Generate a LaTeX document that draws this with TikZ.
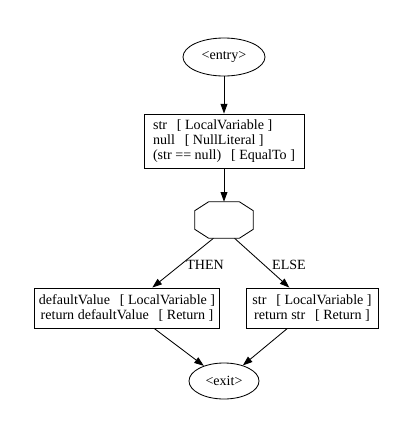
\documentclass[tikz,border=0pt]{standalone}
\usepackage{fontspec}
\setmainfont{Liberation Serif}
\usetikzlibrary{shapes.geometric,arrows.meta}

\newcommand{\gap}{\hspace{0.7em}}

\begin{document}
\begin{tikzpicture}
	[x=0.025cm, y=-0.025cm,
	every node/.style ={font=\fontsize{10}{10.6}\selectfont},
	term/.style ={ellipse, draw, line width=0.6pt, inner sep=0pt},
	block/.style ={rectangle, draw, line width=0.6pt, align=left, minimum height=1cm},
	cond/.style ={rectangle, minimum width=1.45cm, minimum height=0.9cm, inner sep=0pt},
	tag/.style ={inner sep=1pt},
	line/.style ={draw, line width=0.6pt, -{Triangle[length=2.4mm,width=1.7mm]}}]
	\useasboundingbox (0,0) rectangle (420,441);
	\draw (224, 57) node[term, minimum width=2.05cm, minimum height=0.95cm] (entry) {<entry>};
	\draw (224, 141) node[block, minimum width=4cm, minimum height=1.35cm] (decl) {str\gap[ LocalVariable ]\\null\gap[ NullLiteral ]\\(str == null)\gap[ EqualTo ]};
	\draw (224, 220) node[cond] (test) {};
	\draw (127, 308) node[block, align=center, minimum width=4.475cm] (thenblk) {defaultValue\gap[ LocalVariable ]\\return defaultValue\gap[ Return ]};
	\draw (312, 308) node[block, align=center, minimum width=3.3cm] (elseblk) {str\gap[ LocalVariable ]\\return str\gap[ Return ]};
	\draw (224, 381) node[term, minimum width=1.75cm, minimum height=0.9cm] (exit) {<exit>};
	\draw (205, 265) node[tag] (thenlbl) {THEN};
	\draw (289, 265) node[tag] (elselbl) {ELSE};
	% octagon around the test node
	\draw[line width=0.6pt] ([xshift=0.35cm]test.north west) -- ([xshift=-0.35cm]test.north east)
		-- ([yshift=-0.225cm]test.north east) -- ([yshift=0.225cm]test.south east)
		-- ([xshift=-0.35cm]test.south east) -- ([xshift=0.35cm]test.south west)
		-- ([yshift=0.225cm]test.south west) -- ([yshift=-0.225cm]test.north west) -- cycle;
	\draw[line] (entry) -- (decl);
	\draw[line] (decl) -- (test);
	\draw[line] (test.-120) -- (thenblk);
	\draw[line] (test.-60) -- (elseblk);
	\draw[line] (thenblk) -- (exit);
	\draw[line] (elseblk) -- (exit);
\end{tikzpicture}
\end{document}
